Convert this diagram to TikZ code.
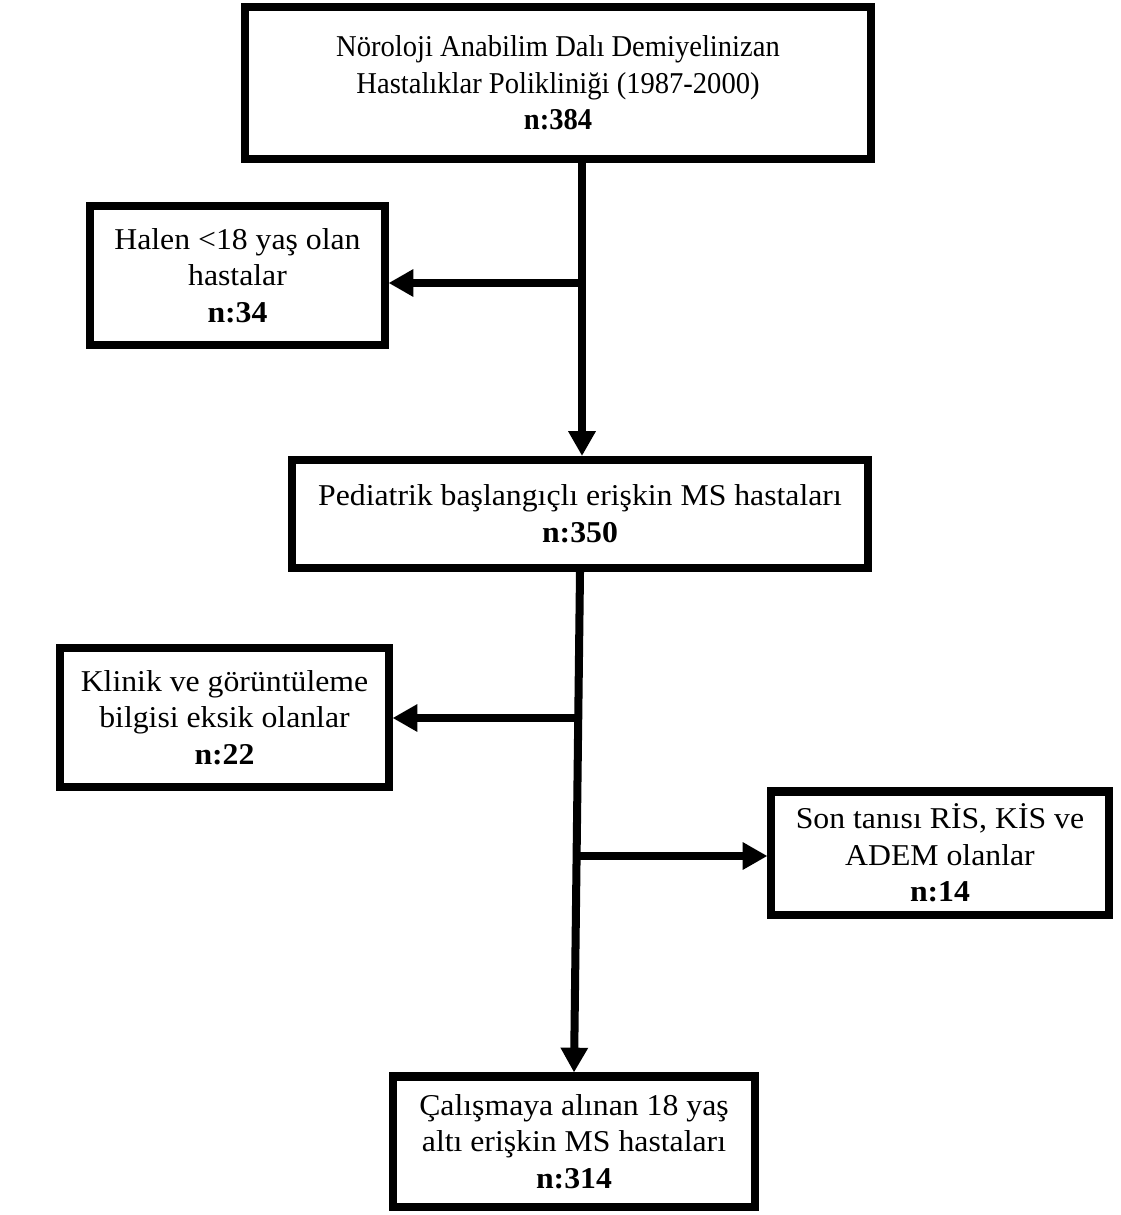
\documentclass[tikz,border=0pt]{standalone}
\usepackage{fontspec}
\setmainfont{Liberation Serif}[FakeStretch=1.05]
\newfontfamily\dardar{Liberation Serif}[FakeStretch=0.945]
\usetikzlibrary{arrows.meta}
\begin{document}
\begin{tikzpicture}[x=0.025cm, y=-0.025cm,
    box/.style={draw, line width=5.7pt, align=center, inner sep=0pt, font=\fontsize{21.5}{26}\selectfont},
    arr/.style={line width=5.7pt, -{Triangle[length=0.62cm, width=0.65cm]}}]
    \useasboundingbox (0,0) rectangle (1120,1215);
    \node[box, minimum width=15.65cm, minimum height=3.8cm, font=\fontsize{21.5}{26}\dardar] (tum) at (558,83) {Nöroloji Anabilim Dalı Demiyelinizan\\Hastalıklar Polikliniği (1987-2000)\\\textbf{n:384}};
    \node[box, minimum width=7.35cm, minimum height=3.45cm] (halen) at (237.5,275.5) {Halen <18 yaş olan\\hastalar\\\textbf{n:34}};
    \node[box, minimum width=14.4cm, minimum height=2.7cm] (ped) at (580,514) {Pediatrik başlangıçlı erişkin MS hastaları\\\textbf{n:350}};
    \node[box, minimum width=8.2cm, minimum height=3.45cm] (klinik) at (224.5,717.5) {Klinik ve görüntüleme\\bilgisi eksik olanlar\\\textbf{n:22}};
    \node[box, minimum width=8.425cm, minimum height=3.075cm] (son) at (940,853) {Son tanısı RİS, KİS ve\\ADEM olanlar\\\textbf{n:14}};
    \node[box, minimum width=9.025cm, minimum height=3.25cm] (calisma) at (574,1141.5) {Çalışmaya alınan 18 yaş\\altı erişkin MS hastaları\\\textbf{n:314}};
    \coordinate (d1) at (582,283);
    \coordinate (d2) at (580,718);
    \coordinate (d3) at (578,856);
    \draw[arr] (tum.south -| d1) -- (ped.north -| d1);
    \draw[arr] (d1) -- (d1 -| halen.east);
    \draw[arr] (ped.south) -- (calisma.north);
    \draw[arr] (d2) -- (d2 -| klinik.east);
    \draw[arr] (d3) -- (d3 -| son.west);
\end{tikzpicture}
\end{document}
